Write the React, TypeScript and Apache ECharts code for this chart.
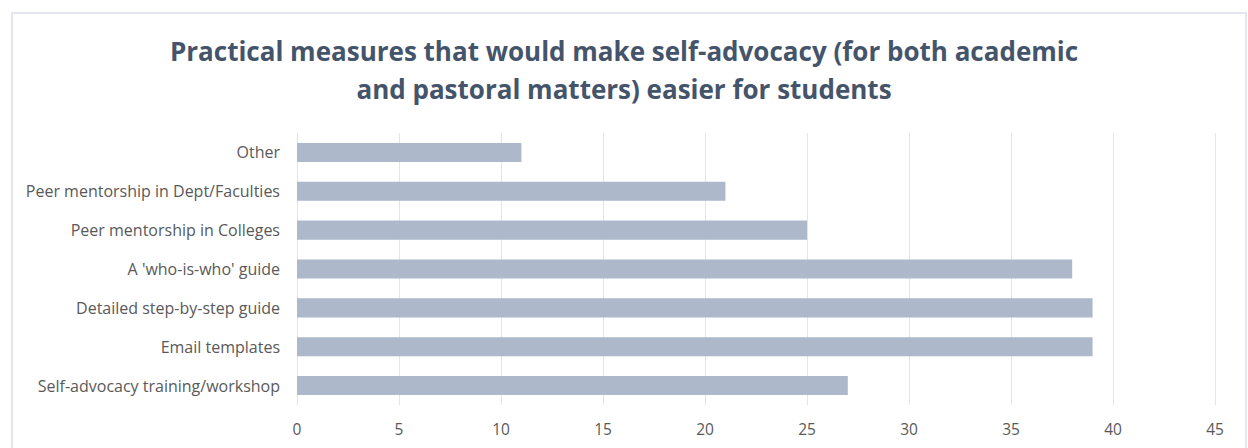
import React, { useEffect, useRef } from "react";
import * as echarts from "echarts";

const categories = [
  "Other",
  "Peer mentorship in Dept/Faculties",
  "Peer mentorship in Colleges",
  "A 'who-is-who' guide",
  "Detailed step-by-step guide",
  "Email templates",
  "Self-advocacy training/workshop",
];
const values = [11, 21, 25, 38, 39, 39, 27];
const titleText =
  "Practical measures that would make self-advocacy (for both academic\nand pastoral matters) easier for students";

export default function App() {
  const ref = useRef<HTMLDivElement>(null);
  useEffect(() => {
    if (!ref.current) return;
    const chart = echarts.init(ref.current, null, { renderer: "svg" });
    chart.setOption({
      animation: false,
      backgroundColor: "transparent",
      title: {
        text: titleText,
        left: "center",
        top: 27,
        textStyle: {
          fontFamily: "Open Sans",
          fontSize: 26,
          fontWeight: "bold",
          color: "#44546A",
          lineHeight: 38,
          align: "center",
        },
      },
      grid: { left: 297, right: 33, top: 133, bottom: 43, containLabel: false },
      xAxis: {
        type: "value",
        min: 0,
        max: 45,
        interval: 5,
        axisLine: { show: false },
        axisTick: { show: false },
        axisLabel: { color: "#595959", fontFamily: "Open Sans", fontSize: 15.5, margin: 16 },
        splitLine: { show: true, lineStyle: { color: "#E1E4EA", width: 1 } },
      },
      yAxis: {
        type: "category",
        data: categories,
        inverse: true,
        axisLine: { show: true, lineStyle: { color: "#E1E4EA", width: 1 } },
        axisTick: { show: false },
        axisLabel: { color: "#595959", fontFamily: "Open Sans", fontSize: 16, margin: 17 },
      },
      series: [
        {
          type: "bar",
          data: values,
          barCategoryGap: "51%",
          itemStyle: { color: "#ADB9CA" },
        },
      ],
    });
    return () => chart.dispose();
  }, []);
  return (
    <div
      style={{
        position: "fixed",
        left: 0,
        top: 0,
        width: 1248,
        height: 448,
        background: "#fff",
      }}
    >
      <div
        style={{
          position: "absolute",
          left: 11,
          top: 12,
          width: 1236,
          height: 450,
          border: "2px solid #E3E6EC",
          boxSizing: "border-box",
        }}
      />
      <div ref={ref} style={{ position: "absolute", left: 0, top: 0, width: 1248, height: 448 }} />
    </div>
  );
}
